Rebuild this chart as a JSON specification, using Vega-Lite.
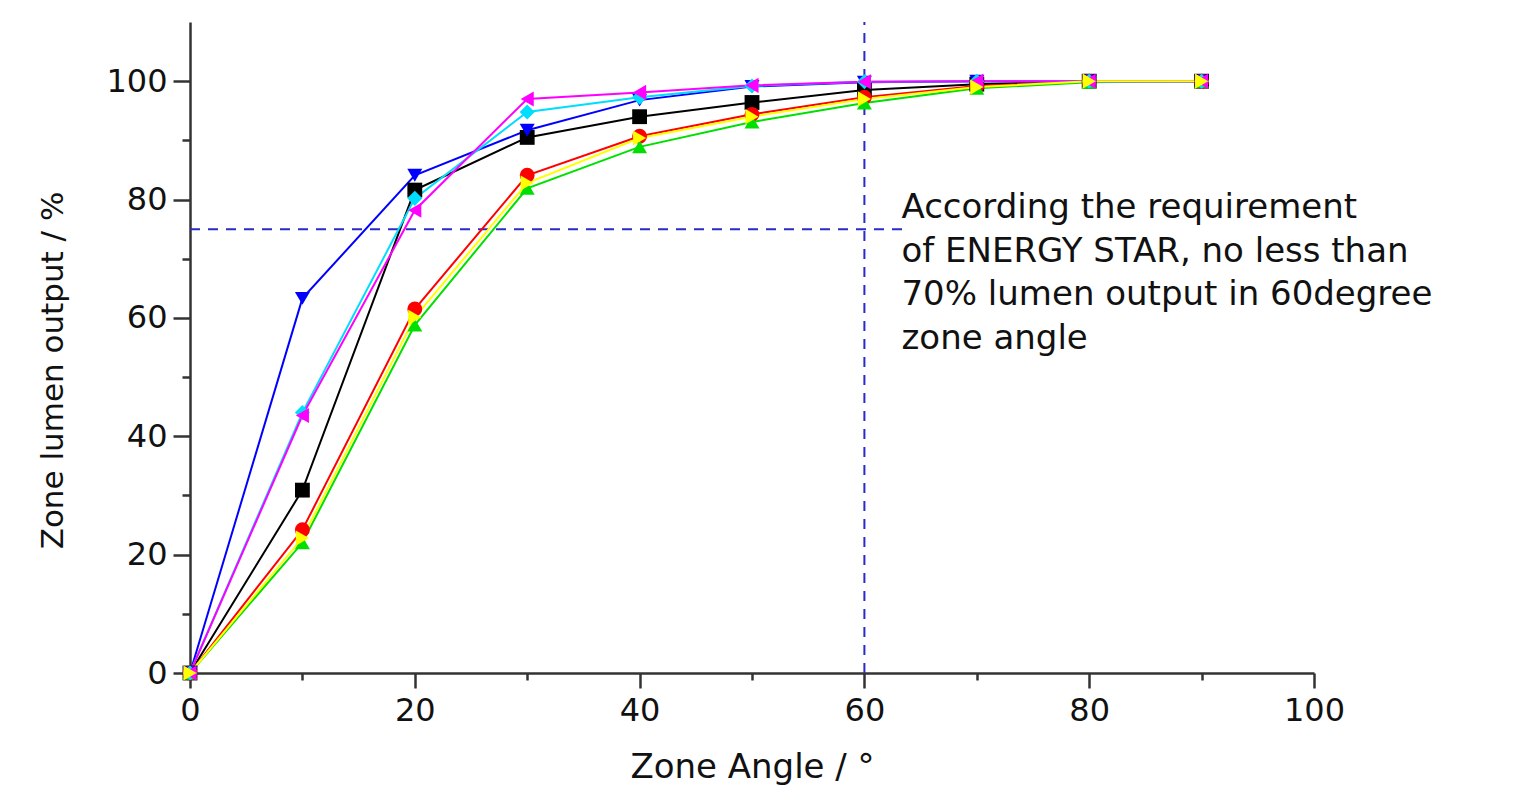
{
  "$schema": "https://vega.github.io/schema/vega-lite/v6.json",
  "width": 1124,
  "height": 651,
  "autosize": {"type": "none"},
  "padding": {"left": 190, "top": 22, "right": 224, "bottom": 114},
  "background": "white",
  "config": {
    "view": {"stroke": null},
    "font": "DejaVu Sans",
    "axis": {"grid": false, "labelFlush": false, "labelOverlap": false, "labelFont": "DejaVu Sans", "titleFont": "DejaVu Sans", "labelColor": "#111", "titleColor": "#111", "domainColor": "#333", "tickColor": "#333", "domainWidth": 2.5, "tickWidth": 2.5}
  },
  "datasets": {
    "curves": [
      {"s": "S1", "angle": 0, "v": 0}, {"s": "S1", "angle": 10, "v": 30.9}, {"s": "S1", "angle": 20, "v": 81.6}, {"s": "S1", "angle": 30, "v": 90.5}, {"s": "S1", "angle": 40, "v": 94.0}, {"s": "S1", "angle": 50, "v": 96.4}, {"s": "S1", "angle": 60, "v": 98.5}, {"s": "S1", "angle": 70, "v": 99.5}, {"s": "S1", "angle": 80, "v": 100}, {"s": "S1", "angle": 90, "v": 100},
      {"s": "S2", "angle": 0, "v": 0}, {"s": "S2", "angle": 10, "v": 24.2}, {"s": "S2", "angle": 20, "v": 61.5}, {"s": "S2", "angle": 30, "v": 84.1}, {"s": "S2", "angle": 40, "v": 90.7}, {"s": "S2", "angle": 50, "v": 94.4}, {"s": "S2", "angle": 60, "v": 97.3}, {"s": "S2", "angle": 70, "v": 99.2}, {"s": "S2", "angle": 80, "v": 100}, {"s": "S2", "angle": 90, "v": 100},
      {"s": "S3", "angle": 0, "v": 0}, {"s": "S3", "angle": 10, "v": 22.0}, {"s": "S3", "angle": 20, "v": 58.8}, {"s": "S3", "angle": 30, "v": 81.9}, {"s": "S3", "angle": 40, "v": 88.9}, {"s": "S3", "angle": 50, "v": 93.1}, {"s": "S3", "angle": 60, "v": 96.3}, {"s": "S3", "angle": 70, "v": 98.8}, {"s": "S3", "angle": 80, "v": 99.8}, {"s": "S3", "angle": 90, "v": 100},
      {"s": "S4", "angle": 0, "v": 0}, {"s": "S4", "angle": 10, "v": 63.3}, {"s": "S4", "angle": 20, "v": 84.1}, {"s": "S4", "angle": 30, "v": 91.7}, {"s": "S4", "angle": 40, "v": 96.8}, {"s": "S4", "angle": 50, "v": 99.1}, {"s": "S4", "angle": 60, "v": 99.8}, {"s": "S4", "angle": 70, "v": 100}, {"s": "S4", "angle": 80, "v": 100}, {"s": "S4", "angle": 90, "v": 100},
      {"s": "S5", "angle": 0, "v": 0}, {"s": "S5", "angle": 10, "v": 44.0}, {"s": "S5", "angle": 20, "v": 80.2}, {"s": "S5", "angle": 30, "v": 94.8}, {"s": "S5", "angle": 40, "v": 97.3}, {"s": "S5", "angle": 50, "v": 99.2}, {"s": "S5", "angle": 60, "v": 99.9}, {"s": "S5", "angle": 70, "v": 100}, {"s": "S5", "angle": 80, "v": 100}, {"s": "S5", "angle": 90, "v": 100},
      {"s": "S6", "angle": 0, "v": 0}, {"s": "S6", "angle": 10, "v": 43.5}, {"s": "S6", "angle": 20, "v": 78.2}, {"s": "S6", "angle": 30, "v": 97.0}, {"s": "S6", "angle": 40, "v": 98.1}, {"s": "S6", "angle": 50, "v": 99.3}, {"s": "S6", "angle": 60, "v": 99.9}, {"s": "S6", "angle": 70, "v": 100}, {"s": "S6", "angle": 80, "v": 100}, {"s": "S6", "angle": 90, "v": 100},
      {"s": "S7", "angle": 0, "v": 0}, {"s": "S7", "angle": 10, "v": 22.8}, {"s": "S7", "angle": 20, "v": 60.1}, {"s": "S7", "angle": 30, "v": 82.8}, {"s": "S7", "angle": 40, "v": 90.4}, {"s": "S7", "angle": 50, "v": 94.0}, {"s": "S7", "angle": 60, "v": 97.0}, {"s": "S7", "angle": 70, "v": 99.0}, {"s": "S7", "angle": 80, "v": 100}, {"s": "S7", "angle": 90, "v": 100}
    ],
    "hline": [{"x0": 0, "x1": 63.5, "y": 75}],
    "vline": [{"x": 60, "y0": 0, "y1": 110}],
    "note": [{"x": 63.3, "y": 81.4, "label": ["According the requirement", "of ENERGY STAR, no less than", "70% lumen output in 60degree", "zone angle"]}]
  },
  "resolve": {"axis": {"x": "independent", "y": "independent"}},
  "layer": [
    {
      "data": {"name": "hline"},
      "mark": {"type": "rule", "color": "#2a2ac8", "strokeWidth": 2, "strokeDash": [10, 8]},
      "encoding": {
        "x": {"field": "x0", "type": "quantitative", "scale": {"domain": [0, 100], "nice": false}, "axis": null},
        "x2": {"field": "x1"},
        "y": {"field": "y", "type": "quantitative", "scale": {"domain": [0, 110], "nice": false}, "axis": null}
      }
    },
    {
      "data": {"name": "vline"},
      "mark": {"type": "rule", "color": "#2a2ac8", "strokeWidth": 2, "strokeDash": [10, 8]},
      "encoding": {
        "x": {"field": "x", "type": "quantitative", "axis": null},
        "y": {"field": "y0", "type": "quantitative", "axis": null},
        "y2": {"field": "y1"}
      }
    },
    {
      "data": {"name": "curves"},
      "mark": {"type": "line", "strokeWidth": 2},
      "encoding": {
        "x": {"field": "angle", "type": "quantitative", "axis": {"orient": "bottom", "values": [0, 20, 40, 60, 80, 100], "tickSize": 15, "labelFontSize": 32, "labelPadding": 7, "title": "Zone Angle / °", "titleFontSize": 34, "titleFontWeight": "normal", "titlePadding": 24}},
        "y": {"field": "v", "type": "quantitative", "axis": {"orient": "left", "values": [0, 20, 40, 60, 80, 100], "tickSize": 17, "labelFontSize": 32, "labelPadding": 6, "title": "Zone lumen output / %", "titleFontSize": 31, "titleFontWeight": "normal", "titlePadding": 36, "titleY": 348}},
        "color": {"field": "s", "type": "nominal", "legend": null, "scale": {"domain": ["S1", "S2", "S3", "S4", "S5", "S6", "S7"], "range": ["#000000", "#ff0000", "#00e000", "#0000ff", "#00ddff", "#ff00ff", "#ffff00"]}},
        "order": {"field": "angle", "type": "quantitative"}
      }
    },
    {
      "data": {"name": "curves"},
      "mark": {"type": "point", "filled": true, "opacity": 1},
      "encoding": {
        "x": {"field": "angle", "type": "quantitative", "axis": null},
        "y": {"field": "v", "type": "quantitative", "axis": null},
        "color": {"field": "s", "type": "nominal", "legend": null},
        "shape": {"field": "s", "type": "nominal", "legend": null, "scale": {"domain": ["S1", "S2", "S3", "S4", "S5", "S6", "S7"], "range": ["square", "circle", "triangle-up", "triangle-down", "diamond", "triangle-left", "triangle-right"]}},
        "size": {"field": "s", "type": "nominal", "legend": null, "scale": {"domain": ["S1", "S2", "S3", "S4", "S5", "S6", "S7"], "range": [220, 230, 320, 340, 260, 320, 320]}}
      }
    },
    {
      "data": {"name": "note"},
      "mark": {"type": "text", "align": "left", "baseline": "top", "fontSize": 34, "lineHeight": 43.5, "color": "#111", "font": "DejaVu Sans"},
      "encoding": {
        "x": {"field": "x", "type": "quantitative", "axis": {"orient": "bottom", "values": [10, 30, 50, 70, 90], "tickSize": 7, "labels": false, "domain": false, "title": null}},
        "y": {"field": "y", "type": "quantitative", "axis": {"orient": "left", "values": [10, 30, 50, 70, 90], "tickSize": 8, "labels": false, "domain": false, "title": null}},
        "text": {"field": "label"}
      }
    }
  ]
}
